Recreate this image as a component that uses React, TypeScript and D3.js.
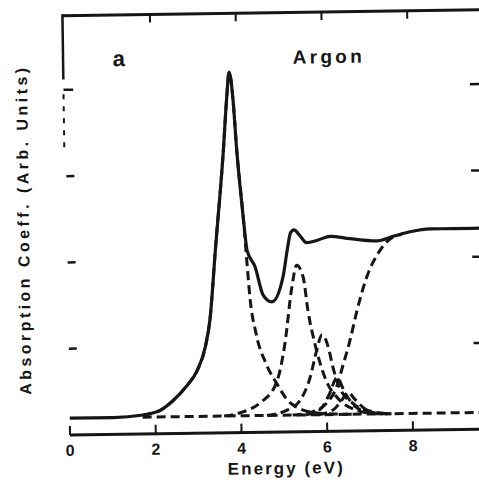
import React, { useRef, useEffect } from "react";
import * as d3 from "d3";

// energy (eV), absorption (arb. units)
const measured: [number, number][] = [
  [0, 0.195], [1.01, 0.195], [1.71, 0.22], [2.11, 0.27], [2.41, 0.38], [2.72, 0.54],
  [3.0, 0.74], [3.18, 0.99], [3.3, 1.31], [3.45, 2.12], [3.67, 3.28], [3.76, 3.86],
  [3.83, 4.18], [3.91, 3.86], [3.98, 3.28], [4.11, 2.5], [4.19, 2.11], [4.37, 1.92],
  [4.55, 1.59], [4.75, 1.51], [5.02, 1.8], [5.13, 2.12], [5.21, 2.31], [5.29, 2.34],
  [5.43, 2.27], [5.58, 2.19], [5.85, 2.22], [6.13, 2.26], [6.59, 2.23], [7.22, 2.2],
  [7.6, 2.25], [8.0, 2.3], [8.46, 2.33], [9.0, 2.33], [9.9, 2.33],
];

const peak1: [number, number][] = [
  [1.71, 0.22], [2.11, 0.27], [2.41, 0.38], [2.72, 0.54], [3.0, 0.74], [3.18, 0.99],
  [3.3, 1.31], [3.45, 2.12], [3.67, 3.28], [3.76, 3.86], [3.83, 4.18], [3.91, 3.86],
  [3.98, 3.28], [4.11, 2.5], [4.18, 1.99], [4.24, 1.57], [4.37, 1.15], [4.59, 0.8],
  [4.83, 0.57], [5.09, 0.365], [5.36, 0.27], [5.7, 0.22], [6.2, 0.2], [6.6, 0.195],
];

const peak2: [number, number][] = [
  [3.6, 0.195], [4.04, 0.24], [4.44, 0.34], [4.83, 0.57], [5.04, 1.02], [5.22, 1.67],
  [5.34, 1.93], [5.49, 1.79], [5.59, 1.4], [5.74, 1.02], [5.96, 0.63], [6.3, 0.36],
  [6.7, 0.24], [7.1, 0.2], [7.4, 0.195],
];

const peak3: [number, number][] = [
  [4.6, 0.195], [5.06, 0.25], [5.37, 0.36], [5.62, 0.63], [5.78, 0.94], [5.91, 1.12],
  [6.05, 0.98], [6.15, 0.75], [6.3, 0.51], [6.61, 0.32], [7.07, 0.22], [7.5, 0.195],
];

const peak4: [number, number][] = [
  [5.5, 0.195], [5.85, 0.26], [6.05, 0.42], [6.25, 0.62], [6.42, 0.45], [6.65, 0.29],
  [7.0, 0.21], [7.3, 0.195],
];

const peak5: [number, number][] = [
  [5.8, 0.195], [6.15, 0.25], [6.35, 0.36], [6.5, 0.45], [6.65, 0.37], [6.9, 0.25],
  [7.2, 0.2], [7.5, 0.195],
];

const continuum: [number, number][] = [
  [5.2, 0.195], [5.67, 0.23], [6.0, 0.33], [6.23, 0.51], [6.38, 0.75], [6.56, 1.05],
  [6.73, 1.39], [6.97, 1.78], [7.29, 2.09], [7.59, 2.24], [7.8, 2.27],
];

const baseline: [number, number][] = [[1.7, 0.195], [9.9, 0.195]];

const energyTicks = [0, 2, 4, 6, 8];
const sideTicks = [1, 2, 3, 4];

const FONT = "'Liberation Sans', Arial, sans-serif";
const INK = "#161616";

const App = () => {
  const chartRef = useRef<SVGSVGElement>(null);

  useEffect(() => {
    if (!chartRef.current) return;
    const svg = d3.select(chartRef.current);
    svg.selectAll("*").remove();

    const x = d3.scaleLinear().domain([0, 8]).range([67.1, 410.1]);
    const y = d3.scaleLinear().domain([0, 4]).range([432.2, 87.0]);
    const top = 4.86;
    const xEnd = 9.9;

    // the scan is tilted a little
    const g = svg.append("g").attr("transform", "rotate(-0.8, 270, 225)");

    const line = d3.line<[number, number]>()
      .x(d => x(d[0]))
      .y(d => y(d[1]))
      .curve(d3.curveMonotoneX);

    // frame
    g.append("line")
      .attr("x1", x(0)).attr("x2", x(xEnd))
      .attr("y1", y(0)).attr("y2", y(0))
      .attr("stroke", INK).attr("stroke-width", 3);
    g.append("line")
      .attr("x1", x(-0.04)).attr("x2", x(xEnd))
      .attr("y1", y(top)).attr("y2", y(top))
      .attr("stroke", INK).attr("stroke-width", 3);
    g.append("line")
      .attr("x1", x(-0.04)).attr("x2", x(-0.04))
      .attr("y1", y(top) - 1.5).attr("y2", y(4.12))
      .attr("stroke", INK).attr("stroke-width", 2.5);
    g.append("line")
      .attr("x1", x(-0.04)).attr("x2", x(-0.04))
      .attr("y1", y(3.95)).attr("y2", y(3.27))
      .attr("stroke", INK).attr("stroke-width", 2)
      .attr("stroke-dasharray", "5,7");

    g.selectAll(".btick").data(energyTicks).enter().append("line")
      .attr("x1", d => x(d)).attr("x2", d => x(d))
      .attr("y1", y(0)).attr("y2", y(0) - 9)
      .attr("stroke", INK).attr("stroke-width", 2);
    g.selectAll(".ttick").data(energyTicks.slice(1)).enter().append("line")
      .attr("x1", d => x(d)).attr("x2", d => x(d))
      .attr("y1", y(top)).attr("y2", y(top) + 8)
      .attr("stroke", INK).attr("stroke-width", 2);
    g.selectAll(".ltick").data(sideTicks).enter().append("line")
      .attr("x1", d => (d === 4 ? x(-0.04) : x(0))).attr("x2", x(0) + 8)
      .attr("y1", d => y(d)).attr("y2", d => y(d))
      .attr("stroke", INK).attr("stroke-width", 2.5);
    g.selectAll(".rtick").data(sideTicks).enter().append("line")
      .attr("x1", x(9.44)).attr("x2", x(xEnd))
      .attr("y1", d => y(d)).attr("y2", d => y(d))
      .attr("stroke", INK).attr("stroke-width", 2.5);

    g.selectAll(".blabel").data(energyTicks).enter().append("text")
      .attr("x", d => x(d)).attr("y", y(0) + 21)
      .attr("text-anchor", "middle")
      .attr("font-family", FONT).attr("font-weight", "bold").attr("font-size", 16)
      .attr("fill", INK)
      .text(d => d);

    g.append("text")
      .attr("x", x(5.01)).attr("y", y(0) + 42)
      .attr("text-anchor", "middle")
      .attr("font-family", FONT).attr("font-weight", "bold").attr("font-size", 17)
      .attr("textLength", 115).attr("lengthAdjust", "spacing")
      .attr("fill", INK)
      .text("Energy  (eV)");

    g.append("text")
      .attr("transform", "translate(29,228) rotate(-90)")
      .attr("text-anchor", "middle")
      .attr("font-family", FONT).attr("font-weight", "bold").attr("font-size", 16)
      .attr("textLength", 327).attr("lengthAdjust", "spacing")
      .attr("fill", INK)
      .text("Absorption  Coeff.  (Arb.  Units)");

    g.append("text")
      .attr("x", 115).attr("y", 64)
      .attr("font-family", FONT).attr("font-weight", "bold").attr("font-size", 22)
      .attr("fill", INK)
      .text("a");
    g.append("text")
      .attr("x", 295).attr("y", 64)
      .attr("font-family", FONT).attr("font-weight", "bold").attr("font-size", 19)
      .attr("textLength", 69).attr("lengthAdjust", "spacing")
      .attr("fill", INK)
      .text("Argon");

    // decomposed components (dashed)
    const dashed = [baseline, peak1, peak2, peak3, peak4, peak5, continuum];
    g.selectAll(".comp").data(dashed).enter().append("path")
      .attr("d", d => line(d))
      .attr("fill", "none")
      .attr("stroke", INK)
      .attr("stroke-width", 3)
      .attr("stroke-dasharray", "9,5");

    // measured spectrum
    g.append("path")
      .attr("d", line(measured))
      .attr("fill", "none")
      .attr("stroke", INK)
      .attr("stroke-width", 3.2)
      .attr("stroke-linejoin", "round");
  }, []);

  return (
    <svg
      ref={chartRef}
      width={479}
      height={486}
      style={{ position: "absolute", left: 0, top: 0, background: "#fff" }}
    ></svg>
  );
};

export default App;
